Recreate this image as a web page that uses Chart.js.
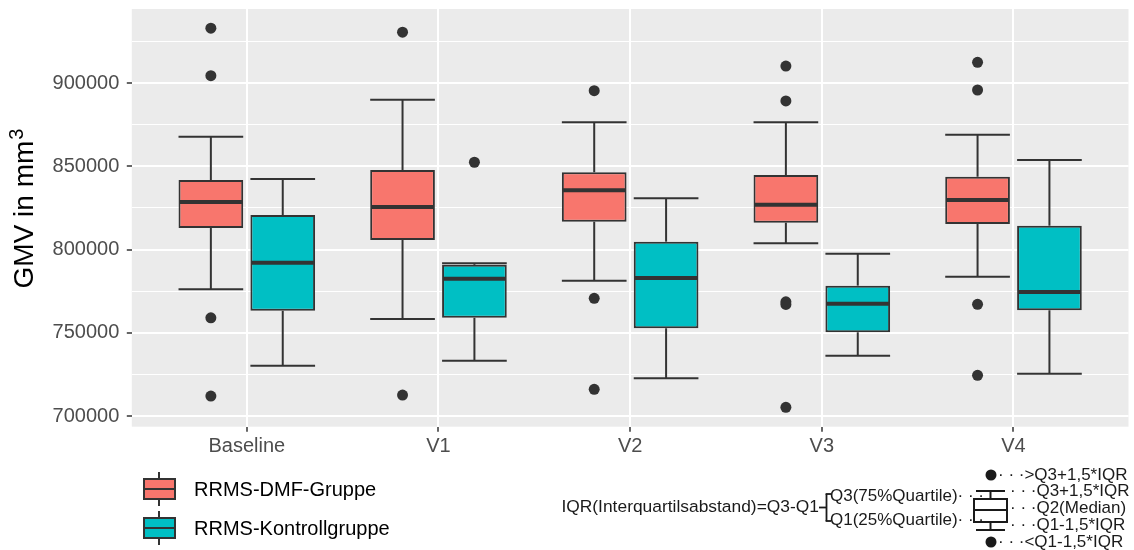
<!DOCTYPE html>
<html>
<head>
<meta charset="utf-8">
<title>GMV Boxplot</title>
<script src="https://cdn.jsdelivr.net/npm/chart.js@4.4.1/dist/chart.umd.min.js"></script>
<style>
  html, body { margin: 0; padding: 0; background: #ffffff; }
  #wrap { width: 1134px; height: 550px; position: relative; }
</style>
</head>
<body>
<div id="wrap"><canvas id="chart"></canvas></div>
<script>
// ---- data -------------------------------------------------------------
const categories = ['Baseline', 'V1', 'V2', 'V3', 'V4'];
const seriesNames = ['RRMS-DMF-Gruppe', 'RRMS-Kontrollgruppe'];

// RRMS-DMF-Gruppe: five-number summaries per visit
const dmfLow    = [776100, 758300, 781300, 803700, 783700];
const dmfQ1     = [812900, 805700, 816700, 816100, 815300];
const dmfMedian = [828500, 825500, 835600, 826900, 829700];
const dmfQ3     = [841700, 847700, 846400, 844700, 843700];
const dmfHigh   = [867700, 890000, 876400, 876400, 868900];
const dmfOutliers = [
  [932900, 904400, 759000, 712000],
  [930500, 712600],
  [895400, 770700, 716000],
  [910200, 889200, 768600, 767000, 705200],
  [912400, 895800, 767100, 724400]
];

// RRMS-Kontrollgruppe
const ctlLow    = [730200, 733200, 722600, 736200, 725400];
const ctlQ1     = [763200, 759000, 752700, 750300, 763500];
const ctlMedian = [792100, 782500, 782900, 767400, 774500];
const ctlQ3     = [820700, 790800, 804700, 778300, 814300];
const ctlHigh   = [842300, 791700, 830800, 797500, 853800];
const ctlOutliers = [[], [852400], [], [], []];

// axis ticks
const majorTicks = [700000, 750000, 800000, 850000, 900000];
const minorTicks = [725000, 775000, 825000, 875000, 925000];
const yMin = 693574;
const yMax = 944445;
const yTitle = 'GMV in mm';
const yTitleSup = '3';

// ---- styling -----------------------------------------------------------
const FONT = '"Liberation Sans", Arial, Helvetica, sans-serif';
const fillColors = ['#F8766D', '#00BFC4'];
const INK = '#333333';
const CATEGORY_PCT = 0.75;
const BAR_PCT = 0.9;
const dodge = CATEGORY_PCT / 4;

const groups = [
  { lo: dmfLow, q1: dmfQ1, med: dmfMedian, q3: dmfQ3, hi: dmfHigh, out: dmfOutliers, shift: -dodge },
  { lo: ctlLow, q1: ctlQ1, med: ctlMedian, q3: ctlQ3, hi: ctlHigh, out: ctlOutliers, shift: dodge }
];

const boxDatasets = groups.map((g, d) => ({
  type: 'bar',
  label: seriesNames[d],
  data: categories.map((_, i) => ({ x: i + 1, y: [g.q1[i], g.q3[i]] })),
  backgroundColor: fillColors[d],
  borderColor: INK,
  borderWidth: 2,
  borderSkipped: false,
  categoryPercentage: CATEGORY_PCT,
  barPercentage: BAR_PCT,
  order: 2
}));

const outlierDatasets = groups.map((g, d) => ({
  type: 'scatter',
  label: seriesNames[d] + ' Ausreißer',
  data: g.out.flatMap((vals, i) => vals.map(v => ({ x: i + 1 + g.shift, y: v }))),
  backgroundColor: INK,
  borderWidth: 0,
  pointRadius: 5.5,
  pointHoverRadius: 5.5,
  order: 1
}));

// ---- plugin: panel, whiskers, medians, titles, legends ------------------
function seg(ctx, x1, y1, x2, y2) {
  ctx.beginPath(); ctx.moveTo(x1, y1); ctx.lineTo(x2, y2); ctx.stroke();
}

const boxParts = {
  id: 'boxParts',
  beforeDraw(chart) {
    const { ctx, chartArea: a } = chart;
    ctx.save();
    ctx.fillStyle = '#EBEBEB';
    ctx.fillRect(a.left, a.top, a.right - a.left, a.bottom - a.top);
    ctx.restore();
  },
  beforeDatasetsDraw(chart) {
    const { ctx } = chart;
    const ys = chart.scales.y;
    ctx.save();
    ctx.strokeStyle = INK;
    ctx.lineWidth = 2;
    groups.forEach((g, d) => {
      chart.getDatasetMeta(d).data.forEach((el, i) => {
        const half = el.width / 2;
        [[g.q3[i], g.hi[i]], [g.q1[i], g.lo[i]]].forEach(([from, to]) => {
          const y0 = ys.getPixelForValue(from);
          const y1 = ys.getPixelForValue(to);
          seg(ctx, el.x, y0, el.x, y1);
          seg(ctx, el.x - half, y1, el.x + half, y1);
        });
      });
    });
    ctx.restore();
  },
  afterDatasetsDraw(chart) {
    const { ctx } = chart;
    const ys = chart.scales.y;
    ctx.save();
    ctx.strokeStyle = INK;
    ctx.lineWidth = 4;
    groups.forEach((g, d) => {
      chart.getDatasetMeta(d).data.forEach((el, i) => {
        const half = el.width / 2;
        const ym = ys.getPixelForValue(g.med[i]);
        seg(ctx, el.x - half + 1, ym, el.x + half - 1, ym);
      });
    });
    ctx.restore();
  },
  afterDraw(chart) {
    const { ctx } = chart;
    ctx.save();

    // y axis title with superscript, rotated
    ctx.save();
    ctx.translate(24, 208.5);
    ctx.rotate(-Math.PI / 2);
    ctx.fillStyle = '#000000';
    ctx.textBaseline = 'middle';
    ctx.textAlign = 'left';
    ctx.font = '28px ' + FONT;
    const wMain = ctx.measureText(yTitle).width;
    ctx.font = '20px ' + FONT;
    const wSup = ctx.measureText(yTitleSup).width;
    const x0 = -(wMain + wSup + 1) / 2;
    ctx.font = '28px ' + FONT;
    ctx.fillText(yTitle, x0, 1);
    ctx.font = '20px ' + FONT;
    ctx.fillText(yTitleSup, x0 + wMain + 1, -7);
    ctx.restore();

    // series legend
    const keyCenters = [489, 528];
    seriesNames.forEach((name, d) => {
      const cy = keyCenters[d];
      ctx.strokeStyle = INK;
      ctx.lineWidth = 2;
      seg(ctx, 159, cy - 17, 159, cy + 17);
      ctx.fillStyle = fillColors[d];
      ctx.fillRect(144, cy - 10, 31, 20);
      ctx.strokeRect(144, cy - 10, 31, 20);
      seg(ctx, 144, cy, 175, cy);
      ctx.fillStyle = '#000000';
      ctx.font = '20px ' + FONT;
      ctx.textAlign = 'left';
      ctx.textBaseline = 'middle';
      ctx.fillText(name, 194, cy + 1);
    });

    // boxplot reading guide
    const ink = '#1a1a1a';
    ctx.fillStyle = ink;
    ctx.strokeStyle = ink;
    ctx.font = '17.4px ' + FONT;
    ctx.textBaseline = 'middle';
    ctx.textAlign = 'right';
    ctx.fillText('IQR(Interquartilsabstand)=Q3-Q1', 819, 507);
    ctx.lineWidth = 1.8;
    seg(ctx, 819, 507.5, 826.5, 507.5);
    seg(ctx, 826.5, 494, 826.5, 521);
    seg(ctx, 825.6, 494, 831, 494);
    seg(ctx, 825.6, 521, 831, 521);
    ctx.textAlign = 'left';
    ctx.font = '17px ' + FONT;
    ctx.fillText('Q3(75%Quartile)· · ·', 830, 496);
    ctx.fillText('Q1(25%Quartile)· · ·', 830, 520);

    // sample box glyph
    ctx.lineWidth = 2;
    ctx.strokeRect(974, 499, 33, 23);
    seg(ctx, 974, 510, 1007, 510);
    seg(ctx, 990.5, 491, 990.5, 499);
    seg(ctx, 990.5, 522, 990.5, 530);
    seg(ctx, 976, 491, 1005, 491);
    seg(ctx, 976, 530, 1005, 530);

    ctx.beginPath(); ctx.arc(991, 475, 5.5, 0, Math.PI * 2); ctx.fill();
    ctx.beginPath(); ctx.arc(991, 542, 5.5, 0, Math.PI * 2); ctx.fill();
    ctx.fillText('· · ·>Q3+1,5*IQR', 998, 475);
    ctx.fillText('· · ·Q3+1,5*IQR', 1010, 491);
    ctx.fillText('· · ·Q2(Median)', 1010, 508);
    ctx.fillText('· · ·Q1-1,5*IQR', 1010, 525);
    ctx.fillText('· · ·<Q1-1,5*IQR', 998, 542);
    ctx.restore();
  }
};

// ---- chart -------------------------------------------------------------
Chart.defaults.font.family = FONT;

new Chart(document.getElementById('chart'), {
  type: 'bar',
  data: { datasets: [...boxDatasets, ...outlierDatasets] },
  options: {
    responsive: true,
    maintainAspectRatio: false,
    devicePixelRatio: 1,
    animation: false,
    layout: { padding: { top: 9, right: 4, bottom: 0, left: 0 } },
    plugins: {
      legend: { display: false },
      tooltip: { enabled: false }
    },
    scales: {
      x: {
        type: 'linear',
        min: 0.4,
        max: 5.6,
        offset: false,
        afterBuildTicks: s => { s.ticks = categories.map((_, i) => ({ value: i + 1 })); },
        afterFit: s => { s.height = 123.3; s.paddingLeft = 0; s.paddingRight = 0; },
        ticks: {
          callback: v => categories[Math.round(v) - 1],
          font: { size: 20 },
          color: '#4D4D4D',
          padding: 3,
          maxRotation: 0,
          autoSkip: false
        },
        grid: { offset: false, color: '#FFFFFF', lineWidth: 2, tickColor: INK, tickLength: 5, tickWidth: 1.5 },
        border: { display: false }
      },
      y: {
        type: 'linear',
        min: yMin,
        max: yMax,
        afterBuildTicks: s => {
          s.ticks = [...majorTicks, ...minorTicks].sort((a, b) => a - b).map(v => ({ value: v }));
        },
        afterFit: s => { s.width = 131.8; s.paddingTop = 0; s.paddingBottom = 0; },
        ticks: {
          callback: v => (majorTicks.includes(v) ? String(v) : ''),
          font: { size: 20 },
          color: '#4D4D4D',
          padding: 7.5,
          autoSkip: false
        },
        grid: {
          color: '#FFFFFF',
          lineWidth: c => (majorTicks.includes(c.tick.value) ? 2 : 1),
          tickColor: c => (majorTicks.includes(c.tick.value) ? INK : 'rgba(0,0,0,0)'),
          tickLength: 5,
          tickWidth: 1.5
        },
        border: { display: false },
        title: { display: false }
      }
    }
  },
  plugins: [boxParts]
});
</script>
</body>
</html>
